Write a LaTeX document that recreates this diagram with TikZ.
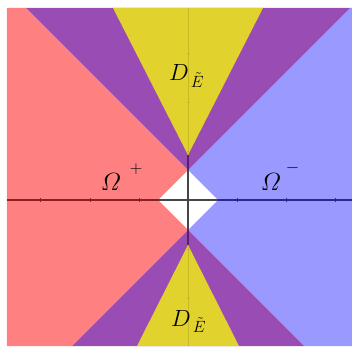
\documentclass[tikz,border=0pt]{standalone}
\usepackage{amsmath}
\definecolor{redreg}{RGB}{255,128,128}
\definecolor{bluereg}{RGB}{153,153,255}
\definecolor{purreg}{RGB}{152,76,180}
\definecolor{yelreg}{RGB}{226,210,46}
\definecolor{axred}{RGB}{140,32,32}
\definecolor{axblue}{RGB}{42,42,140}
\definecolor{axgray}{RGB}{70,70,70}
\definecolor{axpur}{RGB}{90,32,112}
\definecolor{axyel}{RGB}{200,184,36}
\tikzset{
  axisline/.style={line width=1.8pt},
  faintaxis/.style={line width=0.9pt, axyel},
  biglab/.style={inner sep=0pt, font=\fontsize{25}{30}\selectfont},
  dlab/.style={inner sep=0pt, anchor=base west, scale=1.13, font=\fontsize{20.74}{25}\selectfont},
  suplab/.style={inner sep=0pt, font=\fontsize{17}{20}\selectfont}
}
\begin{document}
\begin{tikzpicture}[x=1pt,y=1pt]
\useasboundingbox (-188,-147) rectangle (164,200);
% regions
\fill[redreg] (0,30) -- (-162,192) -- (-181,192) -- (-181,-146) -- (-116,-146) -- (0,-30) -- (-30,0) -- cycle;
\fill[bluereg] (0,30) -- (162,192) -- (164,192) -- (164,-146) -- (116,-146) -- (0,-30) -- (30,0) -- cycle;
\fill[purreg] (0,30) -- (-162,192) -- (162,192) -- cycle;
\fill[purreg] (0,-30) -- (-116,-146) -- (116,-146) -- cycle;
\fill[yelreg] (0,45) -- (-75,192) -- (75,192) -- cycle;
\fill[yelreg] (0,-45) -- (-51,-146) -- (51,-146) -- cycle;
% horizontal axis
\draw[axisline, axred] (-181,0) -- (-30,0);
\draw[axisline, axgray] (-30,0) -- (30,0);
\draw[axisline, axblue] (30,0) -- (164,0);
\foreach \t in {-147,-98,-49} \draw[line width=1pt, axred] (\t,-2) -- (\t,2);
\foreach \t in {49,98,147} \draw[line width=1pt, axblue] (\t,-2) -- (\t,2);
% vertical axis
\draw[faintaxis] (0,192) -- (0,45);
\draw[axisline, axpur] (0,45) -- (0,30);
\draw[axisline, axgray] (0,30) -- (0,-30);
\draw[axisline, axpur] (0,-30) -- (0,-45);
\draw[faintaxis] (0,-45) -- (0,-146);
\foreach \t in {147,98,49,-49,-98} \draw[line width=0.6pt, axyel] (-1.5,\t) -- (1.5,\t);
% labels
\node[biglab] (omp) at (-77,17.5) {$\varOmega$};
\node[suplab] (pl) at (-52,31) {$+$};
\node[biglab] (omm) at (83,17.5) {$\varOmega$};
\node[suplab] (mi) at (104.5,32) {$-$};
\node[dlab] (dtop) at (-19,119) {$D_{\,\tilde E}$};
\node[dlab] (dbot) at (-17,-126) {$D_{\,\tilde E}$};
\end{tikzpicture}
\end{document}
